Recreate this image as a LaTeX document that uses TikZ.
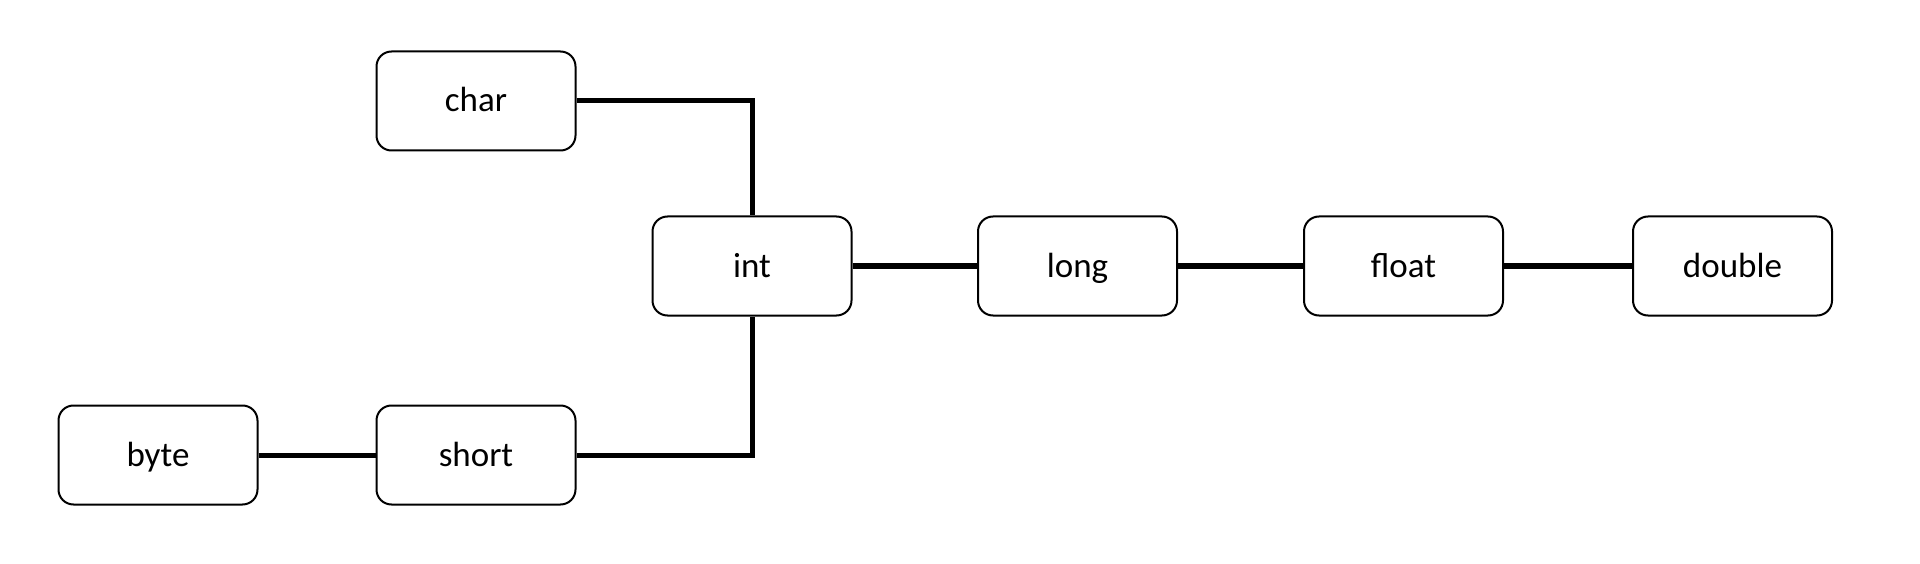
\documentclass[tikz,border=0pt]{standalone}
\usepackage{fontspec}
\setmainfont{Carlito}
\begin{document}
\begin{tikzpicture}[x=1pt,y=-1pt,
  typebox/.style={draw=black, line width=2pt, rounded corners=15pt, fill=white,
    minimum width=199pt, minimum height=99pt, inner sep=0pt,
    font=\fontsize{35}{42}\selectfont, text height=24pt, text depth=2pt},
  link/.style={draw=black, line width=5pt}]
\useasboundingbox (0,0) rectangle (1920,564);
\fill[white] (0,0) rectangle (1920,564);
\node[typebox] (char)   at (476,101)  {char};
\node[typebox] (int)    at (752,266)  {int};
\node[typebox] (long)   at (1077.5,266) {long};
\node[typebox] (float)  at (1403.5,266) {float};
\node[typebox] (double) at (1732.5,266) {double};
\node[typebox] (byte)   at (158,455)  {byte};
\node[typebox] (short)  at (476,455)  {short};
\draw[link] (char.east) -| (int.north);
\draw[link] (short.east) -| (int.south);
\draw[link] (byte) -- (short);
\draw[link] (int) -- (long);
\draw[link] (long) -- (float);
\draw[link] (float) -- (double);
\end{tikzpicture}
\end{document}
